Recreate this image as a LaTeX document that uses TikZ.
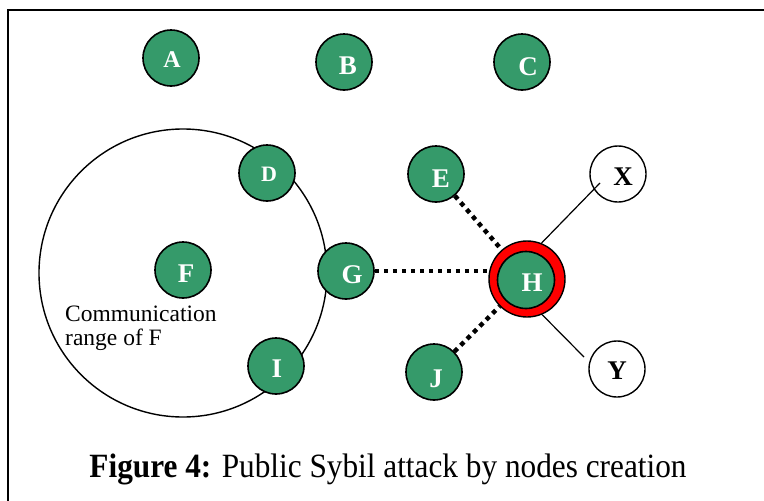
\documentclass[tikz,border=0pt]{standalone}
\usepackage{fontspec}
\setmainfont{Liberation Serif}
\definecolor{nodegreen}{RGB}{53,154,106}
\definecolor{ringred}{RGB}{255,0,0}
\begin{document}
\begin{tikzpicture}[x=1pt,y=-1pt,
  gnode/.style={circle,draw=black,line width=1.6pt,fill=nodegreen,minimum size=56pt,inner sep=0pt},
  wnode/.style={circle,draw=black,line width=1.4pt,fill=white,minimum size=56pt,inner sep=0pt},
  glbl/.style={text=white,font=\fontsize{27}{27}\selectfont\bfseries,inner sep=0pt},
  wlbl/.style={text=black,font=\fontsize{27}{27}\selectfont\bfseries,inner sep=0pt},
  dotline/.style={line width=4.5pt,dash pattern=on 4.5pt off 4.5pt},
  thinline/.style={line width=1.2pt}]
\useasboundingbox (0,0) rectangle (764,501);
% frame
\draw[line width=2pt] (8,501) -- (8,10) -- (764,10);
% range circle of F
\draw[line width=1.4pt] (183,273) circle[radius=144];
% top nodes
\node[gnode,label={[glbl,font=\fontsize{24}{24}\selectfont\bfseries,shift={(1,2)}]center:A}] (A) at (171,58) {};
\node[gnode,label={[glbl,shift={(4,4)}]center:B}] (B) at (344,62) {};
\node[gnode,label={[glbl,shift={(6,5)}]center:C}] (C) at (522,62) {};
% left cluster
\node[gnode,label={[glbl,font=\fontsize{22}{22}\selectfont\bfseries,shift={(2,1)}]center:D}] (D) at (267,173) {};
\node[gnode,label={[glbl,shift={(3,4)}]center:F}] (F) at (183,270) {};
\node[gnode,label={[glbl,shift={(6,4)}]center:G}] (G) at (346,271) {};
\node[gnode,label={[glbl,shift={(1,3)}]center:I}] (I) at (276,366) {};
% right cluster
\node[gnode,label={[glbl,shift={(5,5)}]center:E}] (E) at (436,174) {};
\node[gnode,label={[glbl,shift={(2,7)}]center:J}] (J) at (434,372) {};
\node[wnode,label={[wlbl,shift={(5,3)}]center:X}] (X) at (618,174) {};
\node[wnode,label={[wlbl,shift={(0,2)}]center:Y}] (Y) at (617,369) {};
\node[circle,draw=black,line width=1.4pt,fill=ringred,minimum size=76pt,inner sep=0pt] (Hring) at (527,279) {};
\node[gnode,minimum size=57pt,label={[glbl,shift={(6,3)}]center:H}] (H) at (526,280) {};
% connectors
\coordinate (xend) at (600,183);
\coordinate (yend) at (584,357);
\draw[dotline] (G) -- (G -| Hring.west);
\draw[dotline] (E) -- (Hring);
\draw[dotline] (J) -- (Hring);
\draw[thinline] (Hring.68) -- (xend);
\draw[thinline] (Hring.-67) -- (yend);
% texts
\node[anchor=base west,align=left,inner sep=0pt,font=\fontsize{23.5}{24}\selectfont] (comm) at (65,345) {Communication\\range of F};
\node[anchor=base,inner sep=0pt,font=\fontsize{34}{34}\selectfont,xscale=0.92] (cap) at (388,477) {\textbf{Figure 4:} Public Sybil attack by nodes creation};
\end{tikzpicture}
\end{document}
